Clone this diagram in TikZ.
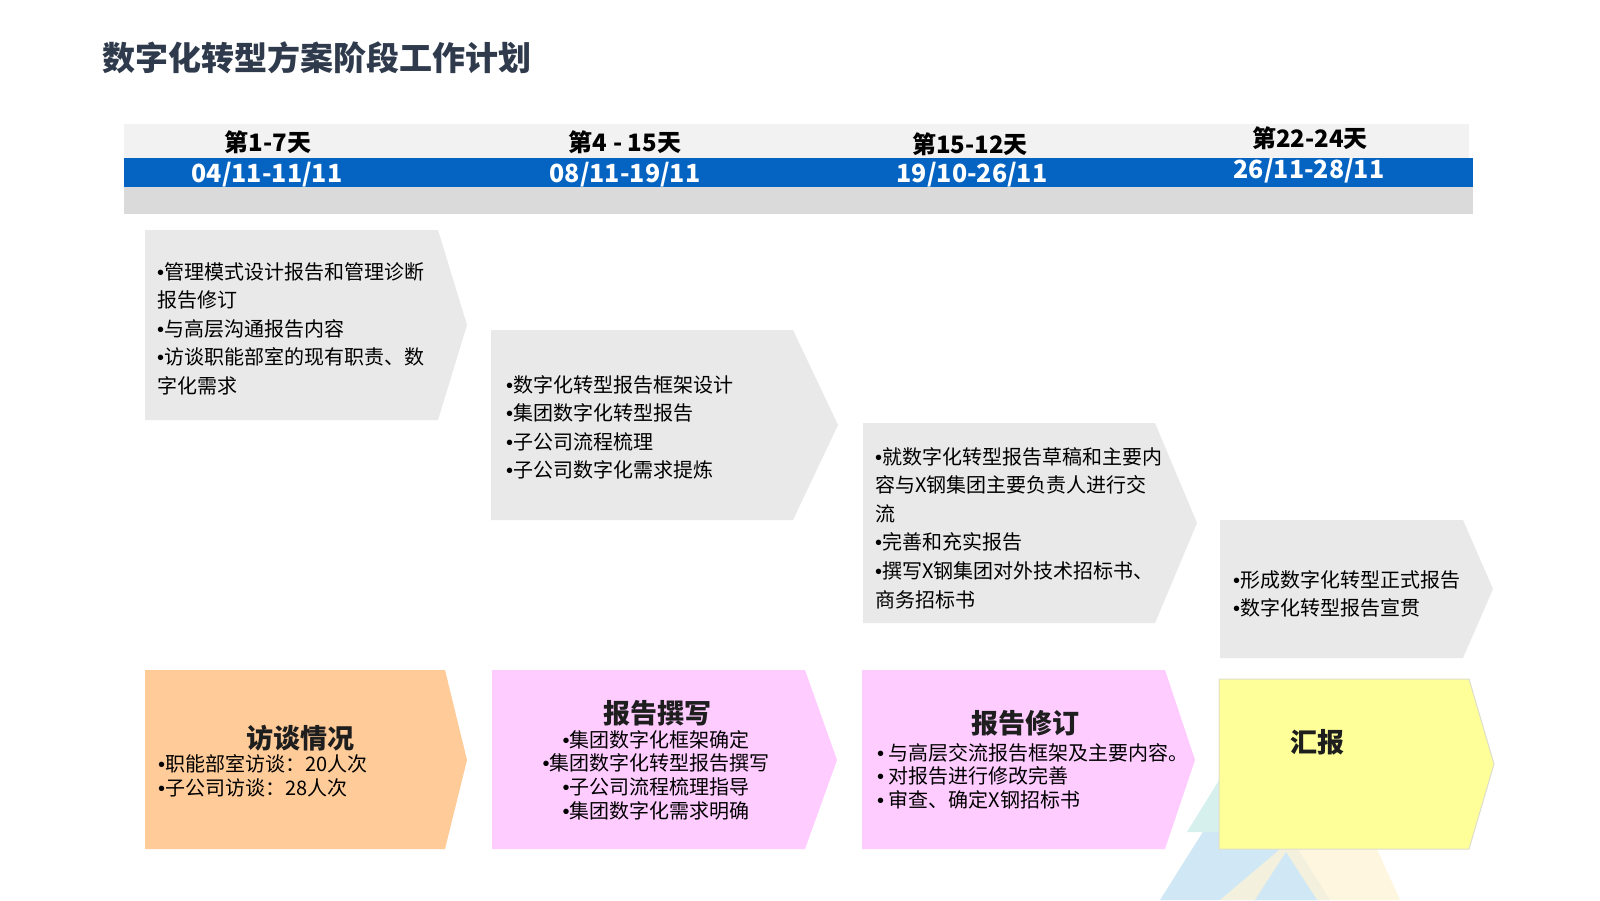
\documentclass[tikz,border=0pt]{standalone}
\usepackage{fontspec}
\setmainfont{Noto Sans CJK SC}
\newfontfamily\dotfont{Liberation Sans}
\newcommand{\bul}{{\dotfont •}}
\usetikzlibrary{positioning}
\definecolor{titleslate}{RGB}{47,59,76}
\definecolor{inkdark}{RGB}{30,30,30}
\definecolor{bandlight}{RGB}{242,242,242}
\definecolor{bandblue}{RGB}{5,99,193}
\definecolor{bandgray}{RGB}{218,218,218}
\definecolor{taskgray}{RGB}{233,233,233}
\definecolor{peach}{RGB}{255,204,153}
\definecolor{lilac}{RGB}{255,204,255}
\definecolor{lemon}{RGB}{255,255,153}
\definecolor{lemonedge}{RGB}{222,222,205}
\definecolor{treeblue}{RGB}{208,232,245}
\definecolor{treecyan}{RGB}{214,240,238}
\definecolor{treecream}{RGB}{255,243,214}

\begin{document}
\begin{tikzpicture}[x=1pt,y=-1pt,
    phasetext/.style={font=\fontsize{24}{28}\selectfont\bfseries,inner sep=0pt},
    datetext/.style={text=white,font=\fontsize{25}{28}\selectfont\bfseries,inner sep=0pt},
    tasktext/.style={font=\fontsize{20}{28.6}\selectfont,anchor=north west,
                     align=left,inner sep=0pt},
    stagehead/.style={text=inkdark,font=\fontsize{27}{30}\selectfont\bfseries,inner sep=0pt},
    stagetext/.style={font=\fontsize{20}{23.8}\selectfont,align=left,inner sep=0pt}]
        \useasboundingbox (0,0) rectangle (1600,900);
        \fill[white] (0,0) rectangle (1600,900);

        % pale triangles behind the last box
        \fill[treeblue] (1160,900) -- (1245,765) -- (1330,900) -- cycle;
        \fill[treecyan] (1187,832) -- (1250,730) -- (1313,832) -- cycle;
        \fill[treecream,fill opacity=0.75] (1220,900) -- (1350,790) -- (1400,900) -- cycle;
        \fill[treeblue] (1255,900) -- (1286,852) -- (1317,900) -- cycle;

        \node[text=titleslate,font=\fontsize{33}{37}\selectfont\bfseries,
              anchor=west,inner sep=0pt] (title) at (102,58)
          {数字化转型方案阶段工作计划};

        \fill[bandlight] (124,124) rectangle (1469,158);
        \fill[bandblue] (124,158) rectangle (1473,187);
        \fill[bandgray] (124,187) rectangle (1473,214);

        \node[phasetext] (phaseA) at (268,142) {第1-7天};
        \node[phasetext] (phaseB) at (625,142) {第4 - 15天};
        \node[phasetext] (phaseC) at (970,144) {第15-12天};
        \node[phasetext] (phaseD) at (1310,138) {第22-24天};
        \node[datetext] (dateA) at (267,175) {04/11-11/11};
        \node[datetext] (dateB) at (625,175) {08/11-19/11};
        \node[datetext] (dateC) at (972,175) {19/10-26/11};
        \node[datetext] (dateD) at (1309,171) {26/11-28/11};

        \fill[taskgray] (145,230) -- (438,230) -- (467,325) -- (438,420) -- (145,420) -- cycle;
        \fill[taskgray] (491,330) -- (793,330) -- (838,425) -- (793,520) -- (491,520) -- cycle;
        \fill[taskgray] (863,423) -- (1155,423) -- (1197,523) -- (1155,623) -- (863,623) -- cycle;
        \fill[taskgray] (1220,520) -- (1463,520) -- (1493,589) -- (1463,658) -- (1220,658) -- cycle;

        \node[tasktext] (taskA) at (157,262)
          {\bul 管理模式设计报告和管理诊断\\报告修订\\\bul 与高层沟通报告内容\\
           \bul 访谈职能部室的现有职责、数\\字化需求};
        \node[tasktext] (taskB) at (506,375)
          {\bul 数字化转型报告框架设计\\\bul 集团数字化转型报告\\\bul 子公司流程梳理\\
           \bul 子公司数字化需求提炼};
        \node[tasktext] (taskC) at (875,447)
          {\bul 就数字化转型报告草稿和主要内\\容与X钢集团主要负责人进行交\\流\\
           \bul 完善和充实报告\\\bul 撰写X钢集团对外技术招标书、\\商务招标书};
        \node[tasktext] (taskD) at (1233,570)
          {\bul 形成数字化转型正式报告\\\bul 数字化转型报告宣贯};

        \fill[peach] (145,670) -- (445,670) -- (467,760) -- (445,849) -- (145,849) -- cycle;
        \fill[lilac] (492,670) -- (805,670) -- (837,760) -- (805,849) -- (492,849) -- cycle;
        \fill[lilac] (862,670) -- (1165,670) -- (1195,760) -- (1165,849) -- (862,849) -- cycle;
        \filldraw[fill=lemon,draw=lemonedge,line width=1pt]
          (1219,679) -- (1469,679) -- (1494,764) -- (1469,849) -- (1219,849) -- cycle;

        \node[stagehead] (talks) at (300,738) {访谈情况};
        \node[stagetext,anchor=north west] (talkslist) at (158,754)
          {\bul 职能部室访谈：20人次\\\bul 子公司访谈：28人次};
        \node[stagehead] (drafting) at (657,713) {报告撰写};
        \node[stagetext,anchor=north,align=center] (draftinglist) at (656,730)
          {\bul 集团数字化框架确定\\\bul 集团数字化转型报告撰写\\\bul 子公司流程梳理指导\\
           \bul 集团数字化需求明确};
        \node[stagehead] (revising) at (1025,723) {报告修订};
        \node[stagetext,anchor=north west] (revisinglist) at (877,743)
          {\bul{} 与高层交流报告框架及主要内容。\\\bul{} 对报告进行修改完善\\
           \bul{} 审查、确定X钢招标书};
        \node[stagehead] (reporting) at (1317,742) {汇报};
      \end{tikzpicture}
\end{document}
